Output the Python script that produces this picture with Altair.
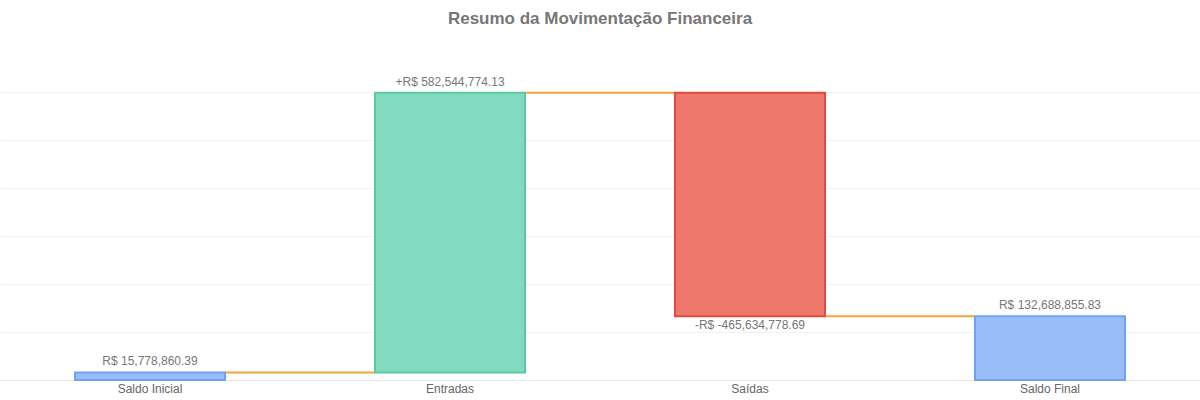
import altair as alt
import pandas as pd

categories = ["Saldo Inicial", "Entradas", "Saídas", "Saldo Final"]
values = [15778860.39, 582544774.13, -465634778.69, 132688855.83]
kinds = ["total", "in", "out", "total"]
prefixes = ["", "+", "-", ""]

fills = {"total": "#99bdf9", "in": "#82dbbf", "out": "#ee786c"}
strokes = {"total": "#6fa1f5", "in": "#5bc9a5", "out": "#e3493d"}

rows = []
running = 0.0
for cat, v, k, p in zip(categories, values, kinds, prefixes):
    if k == "total":
        start, end = 0.0, v
        running = v
    else:
        start, end = running, running + v
        running = end
    top = max(start, end)
    bot = min(start, end)
    rows.append({
        "cat": cat, "start": start, "end": end, "kind": k,
        "label": f"{p}R$ {v:,.2f}",
        "labely": top if k != "out" else bot,
        "pos": "above" if k != "out" else "below",
    })
df = pd.DataFrame(rows)

conn = []
for i in range(len(rows) - 1):
    conn.append({"cat": rows[i]["cat"], "next": rows[i + 1]["cat"], "y": rows[i]["end"]})
cdf = pd.DataFrame(conn)

font = "Liberation Sans"
xscale = alt.Scale(domain=categories, paddingInner=0, paddingOuter=0)
yscale = alt.Scale(domain=[0, 600000000], nice=False)

x = alt.X("cat:N", scale=xscale, sort=categories, title=None,
          axis=alt.Axis(labelAngle=0, labelAlign="center", labelColor="#666", labelFontSize=12,
                        labelFont=font, domainColor="#e6e9f0", ticks=False, labelPadding=8,
                        labelBaseline="middle", grid=False))
y = alt.Y("start:Q", scale=yscale, title=None,
          axis=alt.Axis(values=[0, 100e6, 200e6, 300e6, 400e6, 500e6, 600e6], labels=False,
                        ticks=False, domain=False, gridColor="#f0f1f5", gridWidth=1))

bars = alt.Chart(df).mark_bar(width=alt.RelativeBandSize(0.5), strokeWidth=2).encode(
    x=x, y=y, y2="end:Q",
    fill=alt.Fill("kind:N", scale=alt.Scale(domain=list(fills), range=list(fills.values())), legend=None),
    stroke=alt.Stroke("kind:N", scale=alt.Scale(domain=list(strokes), range=list(strokes.values())), legend=None),
)

rules = alt.Chart(cdf).mark_rule(color="#f0a63c", strokeWidth=2).encode(
    x=alt.X("cat:N", scale=xscale, sort=categories, bandPosition=0.75),
    x2=alt.X2("next:N", bandPosition=0.25),
    y=alt.Y("y:Q", scale=yscale),
)

above = alt.Chart(df).transform_filter("datum.pos == 'above'").mark_text(
    baseline="bottom", dy=-4, fontSize=12, color="#777", font=font
).encode(x=alt.X("cat:N", scale=xscale, sort=categories), y=alt.Y("labely:Q", scale=yscale), text="label:N")

below = alt.Chart(df).transform_filter("datum.pos == 'below'").mark_text(
    baseline="top", dy=4, fontSize=12, color="#777", font=font
).encode(x=alt.X("cat:N", scale=xscale, sort=categories), y=alt.Y("labely:Q", scale=yscale), text="label:N")

chart = alt.layer(rules, bars, above, below).properties(
    width=1200, height=288,
    title=alt.TitleParams("Resumo da Movimentação Financeira", fontSize=17, font=font,
                          fontWeight="bold", color="#777", anchor="middle", offset=48),
    autosize=alt.AutoSizeParams(type="none"),
    padding={"left": 0, "right": 0, "top": 92, "bottom": 20},
).configure_view(stroke=None)

chart.save("out.html", embed_options={"renderer": "svg", "actions": False})
